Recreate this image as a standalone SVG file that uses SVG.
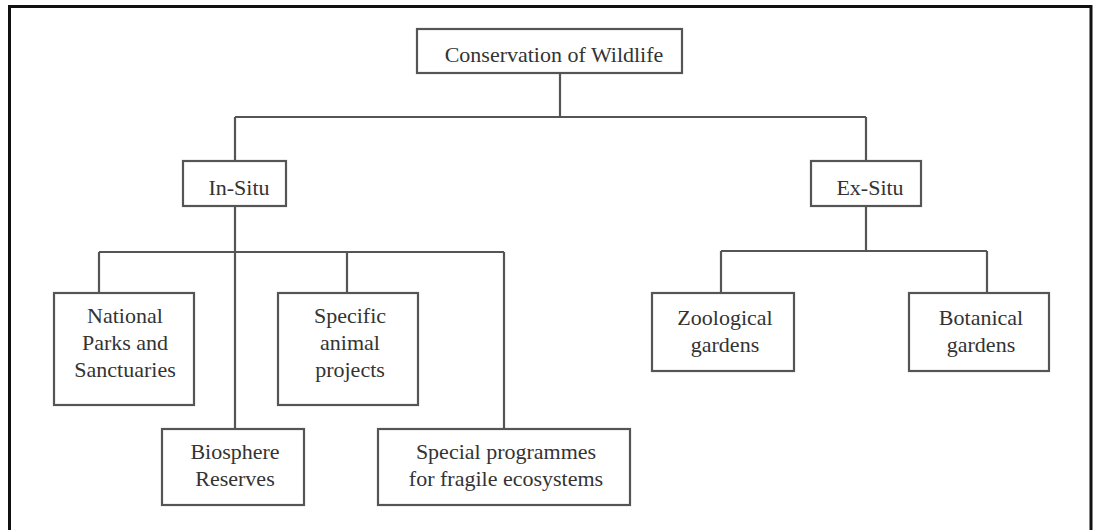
<svg xmlns="http://www.w3.org/2000/svg" width="1093" height="530" viewBox="0 0 1093 530">
<style>
.box{fill:#fff;stroke:#555;stroke-width:2.2}
.ln{fill:none;stroke:#555;stroke-width:2.2}
text{font-family:"Liberation Serif","Times New Roman",serif;font-size:22px;fill:#333;text-anchor:middle}
</style>
<rect x="0" y="0" width="1093" height="530" fill="#fff"/>
<path d="M9.5,540 V6.5 H1091 V540" fill="none" stroke="#111" stroke-width="3"/>
<g id="connectors" class="ln">
<path d="M560,73 V117 M235,117 H866 M235,117 V161 M866,117 V161"/>
<path d="M235,206 V429 M99,252 H504 M99,252 V293 M347,252 V293 M504,252 V429"/>
<path d="M866,206 V251 M721,251 H987 M721,251 V293 M987,251 V293"/>
</g>
<g id="root"><rect class="box" x="417" y="29" width="265" height="44"/><text x="554" y="62">Conservation of Wildlife</text></g>
<g id="insitu"><rect class="box" x="183" y="161" width="103" height="45"/><text x="239" y="195">In-Situ</text></g>
<g id="exsitu"><rect class="box" x="811" y="161" width="110" height="45"/><text x="870" y="195">Ex-Situ</text></g>
<g id="national"><rect class="box" x="54" y="293" width="140" height="112"/><text x="125" y="323">National</text><text x="125" y="350">Parks and</text><text x="125" y="377">Sanctuaries</text></g>
<g id="specific"><rect class="box" x="278" y="293" width="140" height="112"/><text x="350" y="323">Specific</text><text x="350" y="350">animal</text><text x="350" y="377">projects</text></g>
<g id="biosphere"><rect class="box" x="162" y="429" width="142" height="76"/><text x="235" y="459">Biosphere</text><text x="235" y="486">Reserves</text></g>
<g id="special"><rect class="box" x="378" y="429" width="252" height="76"/><text x="506" y="459">Special programmes</text><text x="506" y="486">for fragile ecosystems</text></g>
<g id="zoological"><rect class="box" x="652" y="293" width="142" height="78"/><text x="725" y="325">Zoological</text><text x="725" y="352">gardens</text></g>
<g id="botanical"><rect class="box" x="909" y="293" width="140" height="78"/><text x="981" y="325">Botanical</text><text x="981" y="352">gardens</text></g>
</svg>
